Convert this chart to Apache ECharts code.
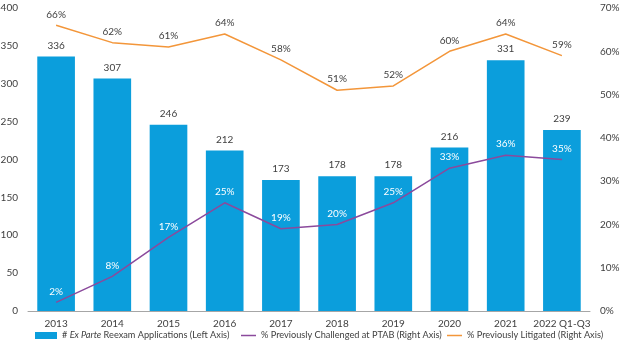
<!DOCTYPE html>
<html>
<head>
<meta charset="utf-8">
<script src="https://cdn.jsdelivr.net/npm/echarts@6/dist/echarts.min.js"></script>
<style>body{margin:0}#chart{width:624px;height:351px}</style>
</head>
<body>
<div id="chart"></div>
<script>
var years = ['2013', '2014', '2015', '2016', '2017', '2018', '2019', '2020', '2021', '2022 Q1-Q3'];
var applications = [336, 307, 246, 212, 173, 178, 178, 216, 331, 239];
var ptabPct = [2, 8, 17, 25, 19, 20, 25, 33, 36, 35];
var litigatedPct = [66, 62, 61, 64, 58, 51, 52, 60, 64, 59];

var barName = '# Ex Parte Reexam Applications (Left Axis)';
var ptabName = '% Previously Challenged at PTAB (Right Axis)';
var litName = '% Previously Litigated (Right Axis)';

var chart = echarts.init(document.getElementById('chart'));
var font = 'Lato, sans-serif';
var lineIcon = 'path://M0,0H20V2H0Z';

function legendAt(left, name, icon, w) {
    return {
        bottom: 6,
        left: left,
        itemWidth: w,
        itemHeight: icon === 'rect' ? 7 : 2,
        textStyle: { fontSize: 9.2, color: '#404040', fontFamily: font,
            rich: { i: { fontStyle: 'italic', fontSize: 9.2, color: '#404040', fontFamily: font } } },
        formatter: function (n) {
            if (n === barName) return '# {i|Ex Parte} Reexam Applications (Left Axis)';
            return n;
        },
        data: [{ name: name, icon: icon }]
    };
}

chart.setOption({
    animation: false,
    textStyle: { fontFamily: font },
    grid: { left: 28, right: 34, top: 8, bottom: 40, containLabel: false, outerBoundsMode: 'none' },
    legend: [
        legendAt(30, barName, 'rect', 22),
        legendAt(236, ptabName, lineIcon, 15),
        legendAt(442, litName, lineIcon, 15)
    ],
    xAxis: {
        type: 'category',
        data: years,
        axisLine: { lineStyle: { color: '#a6a6a6' } },
        axisTick: { show: false },
        axisLabel: { color: '#404040', fontSize: 10, margin: 8, interval: 0 }
    },
    yAxis: [
        {
            type: 'value', min: 0, max: 400, interval: 50,
            splitLine: { show: false },
            axisLabel: { color: '#404040', fontSize: 10, margin: 10 }
        },
        {
            type: 'value', min: 0, max: 70, interval: 10,
            splitLine: { show: false },
            axisLabel: { color: '#404040', fontSize: 10, formatter: '{value}%', margin: 10 }
        }
    ],
    series: [
        {
            name: barName,
            type: 'bar',
            data: applications,
            barWidth: '67%',
            itemStyle: { color: '#0b9edc' },
            label: { show: true, position: 'top', color: '#404040', fontSize: 10, distance: 6 }
        },
        {
            name: ptabName,
            type: 'line',
            yAxisIndex: 1,
            data: ptabPct,
            symbol: 'circle',
            symbolSize: 0,
            lineStyle: { color: '#8b4a9c', width: 1.5 },
            itemStyle: { color: '#8b4a9c' },
            label: { show: true, position: 'top', color: '#ffffff', fontSize: 10, formatter: '{c}%', distance: 6 },
            labelLayout: { hideOverlap: false }
        },
        {
            name: litName,
            type: 'line',
            yAxisIndex: 1,
            data: litigatedPct,
            symbol: 'circle',
            symbolSize: 0,
            lineStyle: { color: '#f3963a', width: 1.5 },
            itemStyle: { color: '#f3963a' },
            label: { show: true, position: 'top', color: '#404040', fontSize: 10, formatter: '{c}%', distance: 6 },
            labelLayout: { hideOverlap: false }
        }
    ]
});
</script>
</body>
</html>
